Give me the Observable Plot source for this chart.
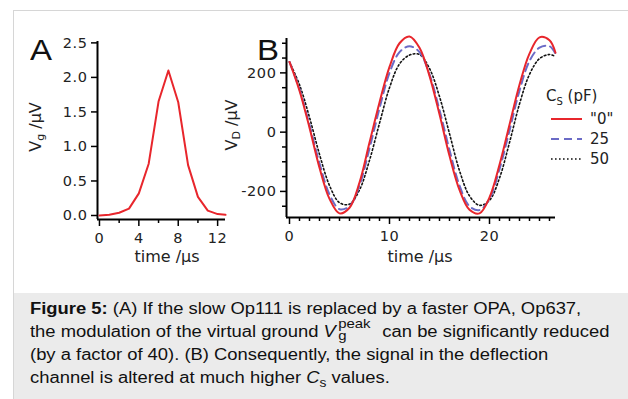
<!DOCTYPE html>
<html><head><meta charset="utf-8">
<script src="https://cdn.jsdelivr.net/npm/d3@7"></script>
<script src="https://cdn.jsdelivr.net/npm/@observablehq/plot@0.6"></script>
<style>
body{margin:0;width:628px;height:399px;overflow:hidden;background:#fff;position:relative;font-family:"DejaVu Sans",sans-serif;color:#222;}
#frame{position:absolute;left:13px;top:10px;width:700px;height:400px;border-left:1px solid #d6d6d6;border-top:1px solid #d6d6d6;}
#caption{position:absolute;left:14px;top:293px;width:700px;height:120px;background:#ebebeb;}
#captext{position:absolute;left:30px;top:297px;font-family:"Liberation Sans",Arial,sans-serif;font-size:16px;line-height:23px;color:#111;white-space:nowrap;transform:scaleX(1.15);transform-origin:0 0;}
.abs{position:absolute;}
.chart svg text{font-size:14.5px !important;letter-spacing:0.6px;font-family:"DejaVu Sans",sans-serif !important;fill:#222;}
.letter{font-family:"Liberation Sans",Arial,sans-serif;font-size:30px;color:#111;line-height:1;transform:scaleX(1.1);transform-origin:0 0;}
.xt{font-size:16px;line-height:1;white-space:nowrap;transform:translateX(-50%);}
.yt{font-size:16px;line-height:1;white-space:nowrap;transform:translate(-50%,-50%) rotate(-90deg);}
.yt sub{font-size:11px;vertical-align:-3px;}
.ss{position:relative;display:inline-block;width:35px;height:1em;margin-left:1px;}
.ss span{position:absolute;left:1px;font-size:13px;line-height:1;}
</style>
</head><body>
<div id="frame"></div>
<div id="caption"></div>
<div id="chartA" class="abs chart" style="left:0;top:0"></div>
<div id="chartB" class="abs chart" style="left:245px;top:0"></div>
<div id="legend" class="abs" style="left:540px;top:85px"></div>
<div class="abs letter" style="left:30px;top:35px">A</div>
<div class="abs letter" style="left:257px;top:35px">B</div>
<div class="abs xt" style="left:167px;top:249px">time /µs</div>
<div class="abs xt" style="left:420px;top:249px">time /µs</div>
<div class="abs yt" style="left:37px;top:127px">V<sub>g</sub> /µV</div>
<div class="abs yt" style="left:233px;top:125px">V<sub>D</sub> /µV</div>
<div id="captext"><b>Figure 5:</b> (A) If the slow Op111 is replaced by a faster OPA, Op637,<br>the modulation of the virtual ground <i>V</i><span class="ss"><span style="top:-4px">peak</span><span style="top:8px">g</span></span> can be significantly reduced<br>(by a factor of 40). (B) Consequently, the signal in the deflection<br>channel is altered at much higher <i>C</i><sub style="font-size:12px">s</sub> values.</div>
<script>
// Panel A data
const timeA = [0,1,2,3,4,5,6,7,8,9,10,11,12,12.8];
const vgA = [0.0,0.01,0.04,0.1,0.32,0.75,1.65,2.1,1.64,0.73,0.27,0.07,0.02,0.01];
const yTicksA = [0,0.5,1.0,1.5,2.0,2.5];
const xTicksA = [0,4,8,12];
const xMinorA = [2,6,10];

// Panel B data
const timeB = [0,1,2,3,4,5,6,7,8,9,10,11,12,13,14,15,16,17,18,19,20,21,22,23,24,25,26,26.6];
const vd0  = [237,140,15,-120,-225,-274,-255,-170,-35,100,220,300,323,285,190,60,-80,-195,-262,-274,-220,-110,25,160,265,320,310,268];
const vd25 = [237,145,25,-105,-210,-260,-250,-180,-55,80,200,270,290,270,195,75,-60,-180,-250,-263,-225,-125,5,140,240,285,290,265];
const vd50 = [237,160,50,-75,-180,-238,-243,-195,-95,30,150,230,260,262,215,120,-5,-130,-215,-247,-230,-155,-35,95,195,248,262,255];
const seriesNames = ['"0"', "25", "50"];
const seriesColors = ["#e8262c", "#6b6bc6", "#111111"];
const seriesDash = [null, "8,5", "1.6,2.4"];
const yTicksB = [-200,0,200];
const yMinorB = [-250,-150,-100,-50,50,100,150,250,300];
const xTicksB = [0,10,20];
const xMinorB = d3.range(1,27).filter(d => d % 10 !== 0);

const dataA = timeA.map((t,i) => ({t, v: vgA[i]}));
const seriesB = [vd0, vd25, vd50].map(arr => timeB.map((t,i) => ({t, v: arr[i]})));

const style = {fontFamily:"DejaVu Sans", fontSize:"14px", color:"#222", background:"transparent", overflow:"visible"};
const ax = {fontSize: 14, stroke: "#000", strokeWidth: 1.5, label: null};
const blank = () => "";

const xDomA = [-0.2, 12.8], yDomA = [-0.058, 2.52];
const chartA = Plot.plot({
  width: 245, height: 280,
  marginLeft: 97, marginRight: 20, marginTop: 41, marginBottom: 61,
  style,
  x: {domain: xDomA},
  y: {domain: yDomA},
  marks: [
    Plot.axisY({...ax, ticks: yTicksA, tickSize: 6, tickPadding: 4, tickFormat: d3.format(".1f")}),
    Plot.axisX({...ax, ticks: xTicksA, tickSize: 7, tickPadding: 6, tickFormat: d => String(d)}),
    Plot.axisX({...ax, ticks: xMinorA, tickSize: 4, tickFormat: blank}),
    Plot.ruleX([xDomA[0]], {stroke: "#000", strokeWidth: 2}),
    Plot.ruleY([yDomA[0]], {stroke: "#000", strokeWidth: 2}),
    Plot.line(dataA, {x: "t", y: "v", stroke: seriesColors[0], strokeWidth: 2})
  ]
});
document.getElementById("chartA").append(chartA);

const xDomB = [-0.3, 26.6], yDomB = [-288, 316];
const chartB = Plot.plot({
  width: 383, height: 280,
  marginLeft: 41, marginRight: 73, marginTop: 38, marginBottom: 63,
  style,
  x: {domain: xDomB},
  y: {domain: yDomB},
  marks: [
    Plot.axisY({...ax, ticks: yTicksB, tickSize: 6, tickPadding: 4, tickFormat: d => String(d)}),
    Plot.axisY({...ax, ticks: yMinorB, tickSize: 4, tickFormat: blank}),
    Plot.axisX({...ax, ticks: xTicksB, tickSize: 7, tickPadding: 6, tickFormat: d => String(d)}),
    Plot.axisX({...ax, ticks: xMinorB, tickSize: 4, tickFormat: blank}),
    Plot.ruleX([xDomB[0]], {stroke: "#000", strokeWidth: 2}),
    Plot.ruleY([yDomB[0]], {stroke: "#000", strokeWidth: 2}),
    Plot.line(seriesB[2], {x: "t", y: "v", stroke: seriesColors[2], strokeWidth: 1.6, strokeDasharray: seriesDash[2], curve: "catmull-rom"}),
    Plot.line(seriesB[1], {x: "t", y: "v", stroke: seriesColors[1], strokeWidth: 2, strokeDasharray: seriesDash[1], curve: "catmull-rom"}),
    Plot.line(seriesB[0], {x: "t", y: "v", stroke: seriesColors[0], strokeWidth: 2, curve: "catmull-rom"})
  ]
});
document.getElementById("chartB").append(chartB);

// Legend
const lg = d3.select("#legend").append("svg").attr("width", 88).attr("height", 85)
  .style("font-family", "DejaVu Sans").style("overflow", "visible");
const title = lg.append("text").attr("x", 6).attr("y", 16).attr("font-size", 15).attr("fill", "#222");
title.append("tspan").text("C");
title.append("tspan").attr("font-size", 10).attr("dy", 4).text("S");
title.append("tspan").attr("dy", -4).text(" (pF)");
seriesNames.forEach((name, i) => {
  const y = 34 + i * 20;
  lg.append("line").attr("x1", 11).attr("x2", 42).attr("y1", y).attr("y2", y)
    .attr("stroke", seriesColors[i]).attr("stroke-width", i === 2 ? 1.6 : 2)
    .attr("stroke-dasharray", seriesDash[i]);
  lg.append("text").attr("x", 50).attr("y", y + 5).attr("font-size", 15).attr("fill", "#222").text(name);
});
</script>
</body></html>
